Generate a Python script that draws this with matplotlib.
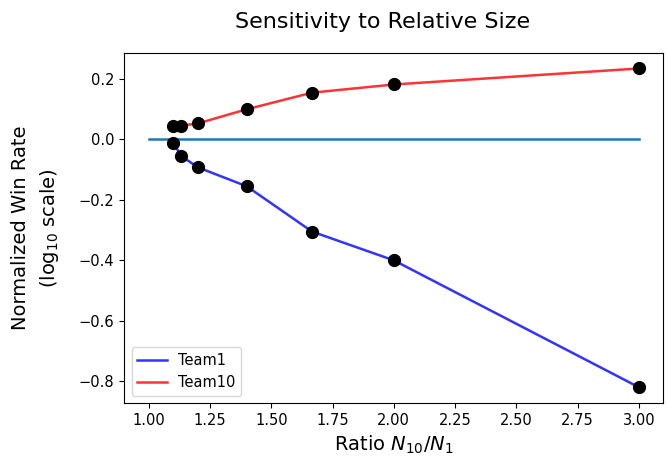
import numpy as np
import matplotlib
matplotlib.use("Agg")
import matplotlib.pyplot as plt

# ratio N10/N1 and log10 normalized win rates
ratios = [1.1, 1.1333, 1.2, 1.4, 1.6667, 2.0, 3.0]
team1 = [-0.012, -0.055, -0.092, -0.155, -0.305, -0.40, -0.82]
team10 = [0.043, 0.046, 0.053, 0.10, 0.155, 0.182, 0.235]
baseline_x = [1.0, 3.0]
baseline_y = [0.0, 0.0]

fig, ax = plt.subplots(figsize=(6.68, 4.65), dpi=100)
fig.subplots_adjust(left=0.186, right=0.993, top=0.887, bottom=0.133)

ax.plot(ratios, team1, color='b', alpha=0.8, lw=1.8, label='Team1')
ax.plot(ratios, team10, color='r', alpha=0.8, lw=1.8, label='Team10')
ax.plot(baseline_x, baseline_y, color='C0', lw=1.8)
ax.plot(ratios, team1, 'ko', markersize=8.5)
ax.plot(ratios, team10, 'ko', markersize=8.5)

ax.set_xticks(np.arange(1.0, 3.01, 0.25))
ax.set_yticks([-0.8, -0.6, -0.4, -0.2, 0.0, 0.2])
ax.tick_params(labelsize=10.5)
ax.set_xlabel(r'Ratio $N_{10}/N_1$', fontsize=14)
ax.set_ylabel('Normalized Win Rate\n(log$_{10}$ scale)', fontsize=14,
              labelpad=13, linespacing=1.45)
ax.set_title('Sensitivity to Relative Size', fontsize=16, x=0.48, pad=18)
ax.legend(loc='lower left', fontsize=10.5)

fig.savefig('out.png')
